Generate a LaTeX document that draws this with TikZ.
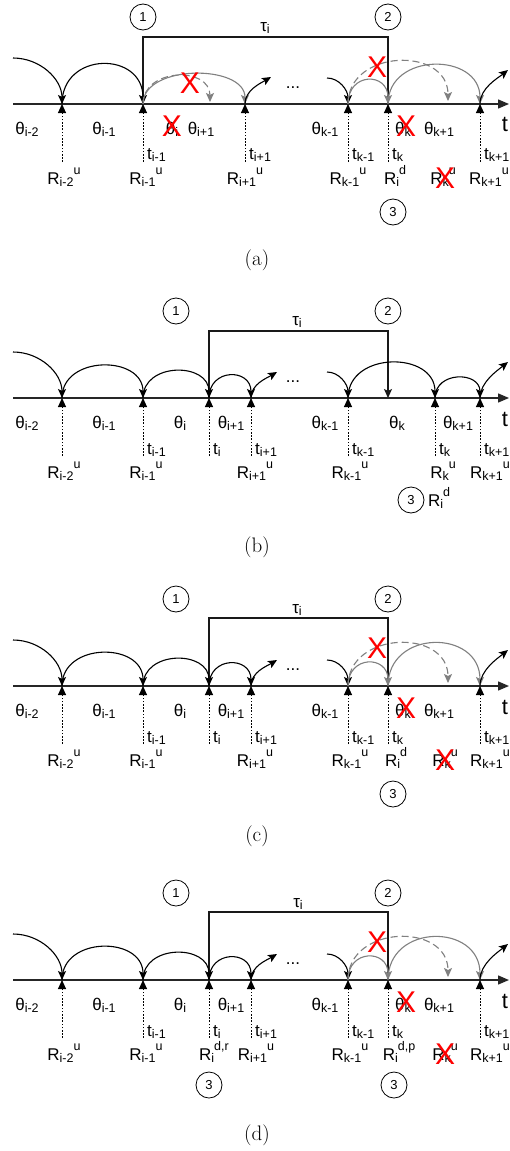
\documentclass[tikz,border=0pt]{standalone}
\usepackage{fontspec}
\usetikzlibrary{arrows.meta}
\newfontfamily\arial{Liberation Sans}
\newcommand\lowtxt[1]{\raisebox{-2pt}{\fontsize{12.5}{12.5}\selectfont #1}}
\newcommand\hightxt[1]{\raisebox{9.5pt}{\fontsize{12.5}{12.5}\selectfont #1}}
\definecolor{gr}{HTML}{808080}
\tikzset{
 lab/.style={font=\arial\fontsize{17}{20}\selectfont, inner sep=0pt, anchor=base},
 tlab/.style={lab, anchor=base west},
 bigt/.style={font=\arial\fontsize{22}{24}\selectfont, inner sep=0pt, anchor=base},
 axisline/.style={draw=black!85, line width=1.4pt, -{Triangle[length=11pt,width=9pt]}},
 bra/.style={draw=black!90, line width=1.1pt},
 barr/.style={bra, -{Stealth[length=9pt,width=8pt,inset=2pt]}},
 arcb/.style={draw=black, line width=1.1pt, -{Stealth[length=9pt,width=8pt,inset=2pt]}},
 arcg/.style={draw=gr, line width=1.1pt, -{Stealth[length=9pt,width=8pt,inset=2pt]}},
 arcgd/.style={arcg, dash pattern=on 7pt off 4pt},
 tickln/.style={draw=black, line width=1pt, dash pattern=on 1.6pt off 1.6pt, -{Triangle[length=9pt,width=8pt]}},
 num/.style={circle, draw, line width=0.8pt, minimum size=26pt, inner sep=0pt, font=\arial\fontsize{13}{13}\selectfont},
 redx/.style={text=red, font=\arial\fontsize{30}{30}\selectfont, inner sep=0pt},
 captxt/.style={font=\fontsize{21}{24}\selectfont, inner sep=0pt},
}
\begin{document}
\begin{tikzpicture}[x=1pt,y=1pt]
\useasboundingbox (0,0) rectangle (510,-1151);
\fill[white] (0,0) rectangle (510,-1151);

% ---------------- panel (a)
\begin{scope}[yshift=-104pt,name prefix=a-]
\foreach \n/\x in {1/62,2/143,3/245,4/348,5/388,6/480}{\coordinate (t\n) at (\x,0); \coordinate (b\n) at (\x,-58);}
\coordinate (s) at (13,0); \coordinate (e) at (509,0);
\coordinate (L) at (13,46);
\coordinate (bl) at (143,67); \coordinate (br) at (388,67);
\coordinate (o3) at (271,27); \coordinate (i4) at (327,26); \coordinate (o6) at (508,34);
\coordinate (g1) at (210,2); \coordinate (g2) at (448,3);
\draw[axisline] (s) -- (e);
\draw[bra] (t2) -- (bl) -- (br) -- (t5);
\node[num] (n1) at (143,87) {1};
\node[num] (n2) at (388,87) {2};
\node[lab] (tau) at (265,73) {τ\lowtxt{i}};
\draw[arcb] (L) .. controls +(27,0) and +(0,25) .. (t1);
\draw[arcb] (t1) .. controls +(0,53) and +(0,53) .. (t2);
\draw[arcg] (t2) .. controls +(0,40) and +(0,40) .. (t3);
\draw[arcgd] (t2) .. controls +(0,36) and +(0,36) .. (g1);
\draw[arcb] (t3) .. controls +(0,14) and +(-10,-6) .. (o3);
\node[lab,anchor=center] (dots) at (293,16) {...};
\draw[arcb] (i4) .. controls +(12,0) and +(0,14) .. (t4);
\draw[arcg] (t4) .. controls +(0,32) and +(0,32) .. (t5);
\draw[arcgd] (t4) .. controls +(0,55) and +(0,55) .. (g2);
\draw[arcg] (t5) .. controls +(0,52) and +(0,52) .. (t6);
\draw[arcb] (t6) .. controls +(0,16) and +(-10,-8) .. (o6);
\foreach \n in {1,...,6}{\draw[tickln] (b\n) -- (t\n);}
\node[lab] (th1) at (27,-30) {θ\lowtxt{i-2}};
\node[lab] (th2) at (104,-30) {θ\lowtxt{i-1}};
\node[lab] (th3) at (172,-30) {θ\lowtxt{i}};
\node[lab] (th4) at (201,-30) {θ\lowtxt{i+1}};
\node[lab] (th5) at (325,-30) {θ\lowtxt{k-1}};
\node[lab] (th6) at (403,-30) {θ\lowtxt{k}};
\node[lab] (th7) at (439,-30) {θ\lowtxt{k+1}};
\node[bigt] (tt) at (505,-27) {t};
\node[tlab] (ta) at (147,-55) {t\lowtxt{i-1}};
\node[tlab] (tb) at (249,-55) {t\lowtxt{i+1}};
\node[tlab] (tc) at (352,-55) {t\lowtxt{k-1}};
\node[tlab] (td) at (392,-55) {t\lowtxt{k}};
\node[tlab] (te) at (484,-55) {t\lowtxt{k+1}};
\node[lab] (ra) at (64,-80) {R\lowtxt{i-2}\hightxt{u}};
\node[lab] (rb) at (146,-80) {R\lowtxt{i-1}\hightxt{u}};
\node[lab] (rc) at (245,-80) {R\lowtxt{i+1}\hightxt{u}};
\node[lab] (rd) at (348,-80) {R\lowtxt{k-1}\hightxt{u}};
\node[lab] (re) at (395,-80) {R\lowtxt{i}\hightxt{d}};
\node[lab] (rf) at (443,-80) {R\lowtxt{k}\hightxt{u}};
\node[lab] (rg) at (489,-80) {R\lowtxt{k+1}\hightxt{u}};
\node[num] (n3) at (393,-108) {3};
\node[redx] (x1) at (190,21) {X};
\node[redx] (x2) at (172,-22) {X};
\node[redx] (x3) at (377,37) {X};
\node[redx] (x4) at (406,-22) {X};
\node[redx] (x5) at (445,-74) {X};
\end{scope}
\node[captxt] (capa) at (257,-260) {(a)};

% ---------------- panel (b)
\begin{scope}[yshift=-398pt,name prefix=b-]
\foreach \n/\x in {1/62,2/143,3/209,4/251,5/348,6/435,7/480}{\coordinate (t\n) at (\x,0); \coordinate (b\n) at (\x,-58);}
\coordinate (s) at (13,0); \coordinate (e) at (509,0);
\coordinate (L) at (13,46);
\coordinate (bl) at (209,67); \coordinate (br) at (388,67); \coordinate (bd) at (388,0);
\coordinate (o4) at (277,26); \coordinate (i5) at (327,26); \coordinate (o7) at (508,36);
\draw[axisline] (s) -- (e);
\draw[barr] (t3) -- (bl) -- (br) -- (bd);
\node[num] (n1) at (176,87) {1};
\node[num] (n2) at (388,87) {2};
\node[lab] (tau) at (297,73) {τ\lowtxt{i}};
\draw[arcb] (L) .. controls +(27,0) and +(0,25) .. (t1);
\draw[arcb] (t1) .. controls +(0,43) and +(0,43) .. (t2);
\draw[arcb] (t2) .. controls +(0,36) and +(0,36) .. (t3);
\draw[arcb] (t3) .. controls +(0,30) and +(0,30) .. (t4);
\draw[arcb] (t4) .. controls +(0,14) and +(-10,-6) .. (o4);
\node[lab,anchor=center] (dots) at (293,16) {...};
\draw[arcb] (i5) .. controls +(12,0) and +(0,14) .. (t5);
\draw[arcb] (t5) .. controls +(0,47) and +(0,47) .. (t6);
\draw[arcb] (t6) .. controls +(0,27) and +(0,27) .. (t7);
\draw[arcb] (t7) .. controls +(0,16) and +(-10,-8) .. (o7);
\foreach \n in {1,...,7}{\draw[tickln] (b\n) -- (t\n);}
\node[lab] (th1) at (27,-30) {θ\lowtxt{i-2}};
\node[lab] (th2) at (104,-30) {θ\lowtxt{i-1}};
\node[lab] (th3) at (180,-30) {θ\lowtxt{i}};
\node[lab] (th4) at (231,-30) {θ\lowtxt{i+1}};
\node[lab] (th5) at (325,-30) {θ\lowtxt{k-1}};
\node[lab] (th6) at (397,-30) {θ\lowtxt{k}};
\node[lab] (th7) at (458,-30) {θ\lowtxt{k+1}};
\node[bigt] (tt) at (505,-28) {t};
\node[tlab] (ta) at (147,-56) {t\lowtxt{i-1}};
\node[tlab] (tb) at (213,-56) {t\lowtxt{i}};
\node[tlab] (tc) at (255,-56) {t\lowtxt{i+1}};
\node[tlab] (td) at (352,-56) {t\lowtxt{k-1}};
\node[tlab] (te) at (439,-56) {t\lowtxt{k}};
\node[tlab] (tf) at (484,-56) {t\lowtxt{k+1}};
\node[lab] (ra) at (64,-80) {R\lowtxt{i-2}\hightxt{u}};
\node[lab] (rb) at (146,-80) {R\lowtxt{i-1}\hightxt{u}};
\node[lab] (rc) at (255,-80) {R\lowtxt{i+1}\hightxt{u}};
\node[lab] (rd) at (350,-80) {R\lowtxt{k-1}\hightxt{u}};
\node[lab] (rf) at (443,-80) {R\lowtxt{k}\hightxt{u}};
\node[lab] (rg) at (490,-80) {R\lowtxt{k+1}\hightxt{u}};
\node[num] (n3) at (411,-102) {3};
\node[lab] (re) at (439,-108) {R\lowtxt{i}\hightxt{d}};
\end{scope}
\node[captxt] (capb) at (257,-547) {(b)};

% ---------------- panel (c)
\begin{scope}[yshift=-686pt,name prefix=c-]
\foreach \n/\x in {1/62,2/143,3/209,4/251,5/348,6/388,7/480}{\coordinate (t\n) at (\x,0); \coordinate (b\n) at (\x,-58);}
\coordinate (s) at (13,0); \coordinate (e) at (509,0);
\coordinate (L) at (13,46);
\coordinate (bl) at (209,68); \coordinate (br) at (388,68);
\coordinate (o4) at (277,26); \coordinate (i5) at (327,26); \coordinate (o7) at (508,36);
\coordinate (g2) at (448,3);
\draw[axisline] (s) -- (e);
\draw[bra] (t3) -- (bl) -- (br) -- (t6);
\node[num] (n1) at (176,87) {1};
\node[num] (n2) at (388,87) {2};
\node[lab] (tau) at (297,73) {τ\lowtxt{i}};
\draw[arcb] (L) .. controls +(27,0) and +(0,25) .. (t1);
\draw[arcb] (t1) .. controls +(0,44) and +(0,44) .. (t2);
\draw[arcb] (t2) .. controls +(0,36) and +(0,36) .. (t3);
\draw[arcb] (t3) .. controls +(0,30) and +(0,30) .. (t4);
\draw[arcb] (t4) .. controls +(0,14) and +(-10,-6) .. (o4);
\node[lab,anchor=center] (dots) at (293,16) {...};
\draw[arcb] (i5) .. controls +(12,0) and +(0,14) .. (t5);
\draw[arcg] (t5) .. controls +(0,31) and +(0,31) .. (t6);
\draw[arcgd] (t5) .. controls +(0,55) and +(0,55) .. (g2);
\draw[arcg] (t6) .. controls +(0,57) and +(0,57) .. (t7);
\draw[arcb] (t7) .. controls +(0,16) and +(-10,-8) .. (o7);
\foreach \n in {1,...,7}{\draw[tickln] (b\n) -- (t\n);}
\node[lab] (th1) at (27,-30) {θ\lowtxt{i-2}};
\node[lab] (th2) at (104,-30) {θ\lowtxt{i-1}};
\node[lab] (th3) at (180,-30) {θ\lowtxt{i}};
\node[lab] (th4) at (231,-30) {θ\lowtxt{i+1}};
\node[lab] (th5) at (325,-30) {θ\lowtxt{k-1}};
\node[lab] (th6) at (403,-30) {θ\lowtxt{k}};
\node[lab] (th7) at (439,-30) {θ\lowtxt{k+1}};
\node[bigt] (tt) at (505,-28) {t};
\node[tlab] (ta) at (147,-56) {t\lowtxt{i-1}};
\node[tlab] (tb) at (213,-56) {t\lowtxt{i}};
\node[tlab] (tc) at (255,-56) {t\lowtxt{i+1}};
\node[tlab] (td) at (352,-56) {t\lowtxt{k-1}};
\node[tlab] (te) at (392,-56) {t\lowtxt{k}};
\node[tlab] (tf) at (484,-56) {t\lowtxt{k+1}};
\node[lab] (ra) at (64,-80) {R\lowtxt{i-2}\hightxt{u}};
\node[lab] (rb) at (146,-80) {R\lowtxt{i-1}\hightxt{u}};
\node[lab] (rc) at (255,-80) {R\lowtxt{i+1}\hightxt{u}};
\node[lab] (rd) at (350,-80) {R\lowtxt{k-1}\hightxt{u}};
\node[lab] (re) at (396,-80) {R\lowtxt{i}\hightxt{d}};
\node[lab] (rf) at (445,-80) {R\lowtxt{k}\hightxt{u}};
\node[lab] (rg) at (490,-80) {R\lowtxt{k+1}\hightxt{u}};
\node[num] (n3) at (393,-108) {3};
\node[redx] (x3) at (377,38) {X};
\node[redx] (x4) at (406,-22) {X};
\node[redx] (x5) at (445,-74) {X};
\end{scope}
\node[captxt] (capc) at (257,-836) {(c)};

% ---------------- panel (d)
\begin{scope}[yshift=-980pt,name prefix=d-]
\foreach \n/\x in {1/62,2/143,3/209,4/251,5/348,6/388,7/480}{\coordinate (t\n) at (\x,0); \coordinate (b\n) at (\x,-58);}
\coordinate (s) at (13,0); \coordinate (e) at (509,0);
\coordinate (L) at (13,46);
\coordinate (bl) at (209,68); \coordinate (br) at (388,68);
\coordinate (o4) at (277,26); \coordinate (i5) at (327,26); \coordinate (o7) at (508,36);
\coordinate (g2) at (448,3);
\draw[axisline] (s) -- (e);
\draw[bra] (t3) -- (bl) -- (br) -- (t6);
\node[num] (n1) at (176,87) {1};
\node[num] (n2) at (388,87) {2};
\node[lab] (tau) at (298,73) {τ\lowtxt{i}};
\draw[arcb] (L) .. controls +(27,0) and +(0,25) .. (t1);
\draw[arcb] (t1) .. controls +(0,44) and +(0,44) .. (t2);
\draw[arcb] (t2) .. controls +(0,36) and +(0,36) .. (t3);
\draw[arcb] (t3) .. controls +(0,30) and +(0,30) .. (t4);
\draw[arcb] (t4) .. controls +(0,14) and +(-10,-6) .. (o4);
\node[lab,anchor=center] (dots) at (293,16) {...};
\draw[arcb] (i5) .. controls +(12,0) and +(0,14) .. (t5);
\draw[arcg] (t5) .. controls +(0,31) and +(0,31) .. (t6);
\draw[arcgd] (t5) .. controls +(0,55) and +(0,55) .. (g2);
\draw[arcg] (t6) .. controls +(0,57) and +(0,57) .. (t7);
\draw[arcb] (t7) .. controls +(0,16) and +(-10,-8) .. (o7);
\foreach \n in {1,...,7}{\draw[tickln] (b\n) -- (t\n);}
\node[lab] (th1) at (27,-30) {θ\lowtxt{i-2}};
\node[lab] (th2) at (104,-30) {θ\lowtxt{i-1}};
\node[lab] (th3) at (180,-30) {θ\lowtxt{i}};
\node[lab] (th4) at (231,-30) {θ\lowtxt{i+1}};
\node[lab] (th5) at (325,-30) {θ\lowtxt{k-1}};
\node[lab] (th6) at (403,-30) {θ\lowtxt{k}};
\node[lab] (th7) at (439,-30) {θ\lowtxt{k+1}};
\node[bigt] (tt) at (505,-28) {t};
\node[tlab] (ta) at (147,-56) {t\lowtxt{i-1}};
\node[tlab] (tb) at (213,-56) {t\lowtxt{i}};
\node[tlab] (tc) at (255,-56) {t\lowtxt{i+1}};
\node[tlab] (td) at (352,-56) {t\lowtxt{k-1}};
\node[tlab] (te) at (392,-56) {t\lowtxt{k}};
\node[tlab] (tf) at (484,-56) {t\lowtxt{k+1}};
\node[lab] (ra) at (64,-80) {R\lowtxt{i-2}\hightxt{u}};
\node[lab] (rb) at (146,-80) {R\lowtxt{i-1}\hightxt{u}};
\node[lab] (rh) at (214,-80) {R\lowtxt{i}\hightxt{d,r}};
\node[lab] (rc) at (256,-80) {R\lowtxt{i+1}\hightxt{u}};
\node[lab] (rd) at (350,-80) {R\lowtxt{k-1}\hightxt{u}};
\node[lab] (re) at (399,-80) {R\lowtxt{i}\hightxt{d,p}};
\node[lab] (rf) at (445,-80) {R\lowtxt{k}\hightxt{u}};
\node[lab] (rg) at (490,-80) {R\lowtxt{k+1}\hightxt{u}};
\node[num] (n3a) at (209,-105) {3};
\node[num] (n3) at (394,-105) {3};
\node[redx] (x3) at (377,38) {X};
\node[redx] (x4) at (406,-22) {X};
\node[redx] (x5) at (445,-74) {X};
\end{scope}
\node[captxt] (capd) at (257,-1135) {(d)};
\end{tikzpicture}
\end{document}
